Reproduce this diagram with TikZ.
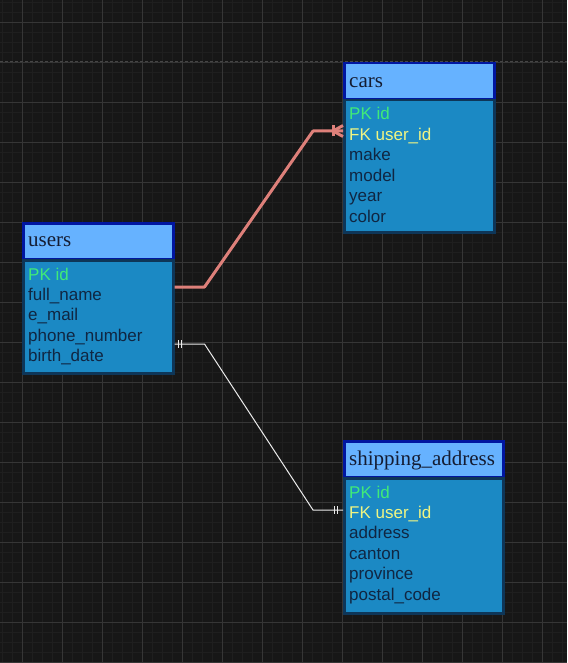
\documentclass[tikz,border=0pt]{standalone}
\usepackage{fontspec}
\setmainfont{Liberation Serif}
\newfontfamily\fieldfont{Liberation Sans}
\usetikzlibrary{calc}
\definecolor{bg}{RGB}{23,23,23}
\definecolor{minorgrid}{RGB}{31,31,31}
\definecolor{majorgrid}{RGB}{54,54,54}
\definecolor{pagecol}{RGB}{70,70,70}
\definecolor{hdrfill}{RGB}{102,178,255}
\definecolor{hdrline}{RGB}{0,22,160}
\definecolor{bdyfill}{RGB}{27,137,196}
\definecolor{bdyline}{RGB}{14,54,88}
\definecolor{hdrtext}{RGB}{20,28,50}
\definecolor{fldtext}{RGB}{16,38,66}
\definecolor{pkcol}{RGB}{64,235,120}
\definecolor{fkcol}{RGB}{240,245,130}
\definecolor{relred}{RGB}{222,128,122}
\definecolor{relwhite}{RGB}{235,235,235}
\begin{document}
\begin{tikzpicture}[x=1pt,y=-1pt,
  hdr/.style={draw=hdrline, fill=hdrfill, line width=2.5pt, inner sep=0pt, anchor=north west},
  bdy/.style={draw=bdyline, fill=bdyfill, line width=2.5pt, inner sep=0pt, anchor=north west},
  ttl/.style={anchor=base west, inner sep=0pt, font=\fontsize{21}{25}\selectfont, text=hdrtext},
  fld/.style={anchor=base west, inner sep=0pt, font=\fieldfont\fontsize{17}{20}\selectfont, text=fldtext},
  pkfld/.style={fld, text=pkcol},
  fkfld/.style={fld, text=fkcol},
  minorline/.style={draw=minorgrid, line width=0.6pt},
  majorline/.style={draw=majorgrid, line width=0.8pt},
  redrel/.style={draw=relred, line width=3pt},
  whiterel/.style={draw=relwhite, line width=1pt}]
\useasboundingbox (0,0) rectangle (567,663);
\fill[bg] (0,0) rectangle (567,663);
% grid
\foreach \i in {0,...,56} \draw[minorline] ({2+10*\i},0) -- ({2+10*\i},663);
\foreach \j in {0,...,66} \draw[minorline] (0,{2+10*\j}) -- (567,{2+10*\j});
\foreach \i in {0,...,13} \draw[majorline] ({22+40*\i},0) -- ({22+40*\i},663);
\foreach \j in {0,...,16} \draw[majorline] (0,{22+40*\j}) -- (567,{22+40*\j});
\draw[draw=pagecol, line width=1pt, dash pattern=on 3pt off 2pt] (0,62) -- (567,62);

% users
\node[hdr, minimum width=150pt, minimum height=36pt] (uhdr) at (22,222) {};
\node[bdy, minimum width=150pt, minimum height=113pt] (ubody) at (22,259) {};
\node[ttl] (utitle) at (28,246.5) {users};
\node[pkfld] (upk) at (28,280) {PK id};
\node[fld] (ufull) at (28,300.4) {full\_name};
\node[fld] (umail) at (28,320.8) {e\_mail};
\node[fld] (uphone) at (28,341.2) {phone\_number};
\node[fld] (ubirth) at (28,361.6) {birth\_date};

% cars
\node[hdr, minimum width=150pt, minimum height=36pt] (chdr) at (343,62) {};
\node[bdy, minimum width=150pt, minimum height=132pt] (cbody) at (343,99) {};
\node[ttl] (ctitle) at (349,87.3) {cars};
\node[pkfld] (cpk) at (349,120) {PK id};
\node[fkfld] (cfk) at (349,140.4) {FK user\_id};
\node[fld] (cmake) at (349,160.8) {make};
\node[fld] (cmodel) at (349,181.2) {model};
\node[fld] (cyear) at (349,201.6) {year};
\node[fld] (ccolor) at (349,222) {color};

% shipping_address
\node[hdr, minimum width=159pt, minimum height=36pt] (shdr) at (343,440) {};
\node[bdy, minimum width=159pt, minimum height=135pt] (sbody) at (343,477) {};
\node[ttl] (stitle) at (349,465) {shipping\_address};
\node[pkfld] (spk) at (349,498) {PK id};
\node[fkfld] (sfk) at (349,518.4) {FK user\_id};
\node[fld] (saddr) at (349,538.8) {address};
\node[fld] (scanton) at (349,559.2) {canton};
\node[fld] (sprov) at (349,579.6) {province};
\node[fld] (spost) at (349,600) {postal\_code};

% connector users -> cars (one to many)
\coordinate (ucarstart) at ($(ubody.north east)+(0,28)$);
\coordinate (carsend) at ($(cbody.north west)+(0,32)$);
\draw[redrel, line join=round] (ucarstart) -- ++(30,0) -- ($(carsend)+(-30,0)$) -- (carsend);
\draw[redrel] ($(carsend)+(-10,-5.5)$) -- ($(carsend)+(-10,5.5)$);
\draw[redrel] ($(carsend)+(0,-5.5)$) -- ($(carsend)+(-10,0)$) -- ($(carsend)+(0,5.5)$);

% connector users -> shipping_address (one to one)
\coordinate (ushipstart) at ($(ubody.north east)+(0,85)$);
\coordinate (shipend) at ($(sbody.north west)+(0,33)$);
\draw[whiterel] (ushipstart) -- ++(30,0) -- ($(shipend)+(-30,0)$) -- (shipend);
\draw[whiterel] ($(ushipstart)+(4,-4)$) -- ($(ushipstart)+(4,4)$);
\draw[whiterel] ($(ushipstart)+(7,-4)$) -- ($(ushipstart)+(7,4)$);
\draw[whiterel] ($(shipend)+(-9,-4)$) -- ($(shipend)+(-9,4)$);
\draw[whiterel] ($(shipend)+(-6,-4)$) -- ($(shipend)+(-6,4)$);
\end{tikzpicture}
\end{document}
